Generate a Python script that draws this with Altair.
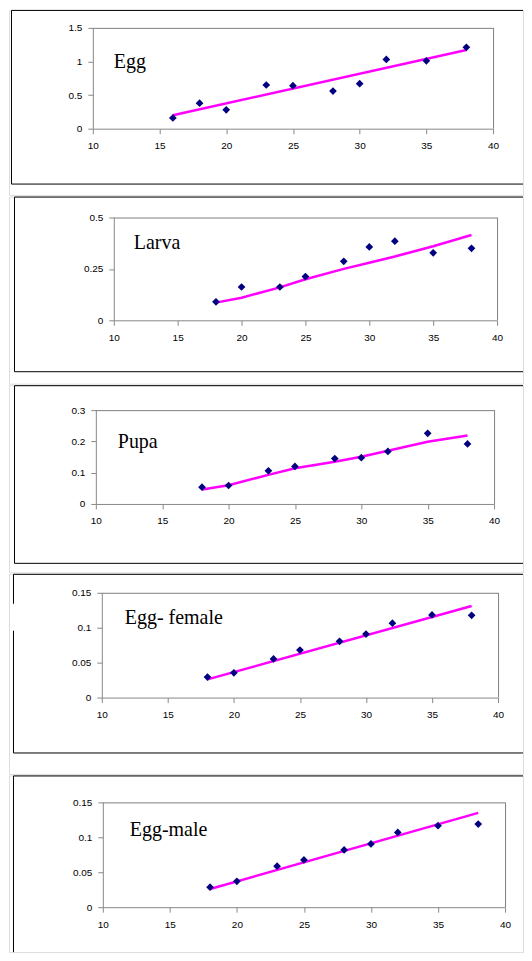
import altair as alt
import pandas as pd

# ---------------- data ----------------
x_ticks = [10, 15, 20, 25, 30, 35, 40]

egg_temp = [16, 18, 20, 23, 25, 28, 30, 32, 35, 38]
egg_val = [0.16, 0.38, 0.28, 0.65, 0.64, 0.56, 0.67, 1.03, 1.01, 1.21]
egg_fit_temp = [16, 38]
egg_fit_val = [0.20, 1.17]

temp = [18, 20, 23, 25, 28, 30, 32, 35, 38]

larva_val = [0.09, 0.162, 0.162, 0.213, 0.287, 0.357, 0.385, 0.328, 0.35]
larva_fit_val = [0.086, 0.11, 0.16, 0.20, 0.25, 0.28, 0.31, 0.36, 0.415]

pupa_val = [0.0535, 0.059, 0.106, 0.12, 0.145, 0.148, 0.168, 0.226, 0.192]
pupa_fit_val = [0.046, 0.06, 0.093, 0.114, 0.135, 0.151, 0.17, 0.199, 0.219]

female_val = [0.0293, 0.0355, 0.0554, 0.068, 0.0805, 0.0909, 0.1065, 0.1183, 0.1178]
female_fit_temp = [18, 38]
female_fit_val = [0.026, 0.131]

male_val = [0.0286, 0.037, 0.0586, 0.0676, 0.082, 0.0905, 0.107, 0.1167, 0.119]
male_fit_temp = [18, 38]
male_fit_val = [0.026, 0.135]

labels = ["Egg", "Larva", "Pupa", "Egg- female", "Egg-male"]
y_max = [1.5, 0.5, 0.3, 0.15, 0.15]
y_ticks = [[0, 0.5, 1, 1.5], [0, 0.25, 0.5], [0, 0.1, 0.2, 0.3],
           [0, 0.05, 0.1, 0.15], [0, 0.05, 0.1, 0.15]]

series = [
    (egg_temp, egg_val, egg_fit_temp, egg_fit_val),
    (temp, larva_val, temp, larva_fit_val),
    (temp, pupa_val, temp, pupa_fit_val),
    (temp, female_val, female_fit_temp, female_fit_val),
    (temp, male_val, male_fit_temp, male_fit_val),
]

# ---------------- layout (page pixels) ----------------
ORIGIN_X = 8           # page x of every cell's left edge (page margin)
CELL_W = 515           # cells run to page x 523 (svg must stay <= 516 wide)
CELL_TRIM = 1.5        # stacking adds a little to every cell; compensate
cell_top = [8, 195, 384, 573, 775]
cell_bottom = [195, 384, 573, 775, 952]
box_left = [10.5, 13.5, 13.5, 12.5, 12.5]
box_bottom = [182.5, 370.5, 562.5, 752.5, None]
# plot area: (left, top, width, height)
plots = [(92, 26, 401, 101), (113, 216, 384, 103), (95, 409, 399, 94),
         (101, 592, 397, 105), (102, 802, 403, 105)]
label_pos = [(113, 66), (133, 248), (117, 447), (124, 623), (129, 836)]
left_gap = [None, None, None, (603, 630), None]

one = pd.DataFrame({"a": [0]})


def rule(x, y, x2=None, y2=None, color="black"):
    enc = dict(x=alt.value(x), y=alt.value(y))
    if x2 is not None:
        enc["x2"] = alt.value(x2)
    if y2 is not None:
        enc["y2"] = alt.value(y2)
    return alt.Chart(one).mark_rule(color=color, strokeWidth=1).encode(**enc)


panels = []
for i in range(5):
    xs, ys, fx, fy = series[i]
    ct = cell_top[i]
    ch = cell_bottom[i] - ct - (CELL_TRIM if i < 4 else 0)
    pl, pt, w, h = plots[i]
    px0 = pl - ORIGIN_X          # plot left inside the cell
    py0 = pt - ct                # plot top inside the cell

    xsc = alt.Scale(domain=[10, 40], range=[px0, px0 + w], nice=False, zero=False)
    ysc = alt.Scale(domain=[0, y_max[i]], range=[py0 + h, py0], nice=False, zero=False)
    xax = alt.Axis(values=x_ticks, labelExpr="datum.value + ''", title=None, grid=False,
                   labelPadding=7, labelFlush=False, labelOverlap=False,
                   offset=(py0 + h) - ch)
    yax = alt.Axis(values=y_ticks[i], labelExpr="datum.value + ''", title=None, grid=False,
                   labelPadding=6, labelOverlap=False, offset=-px0)

    fit = pd.DataFrame({"t": fx, "v": fy})
    pts = pd.DataFrame({"t": xs, "v": ys})

    line = alt.Chart(fit).mark_line(color="#FF00FF", strokeWidth=2.5).encode(
        x=alt.X("t:Q", scale=xsc, axis=xax),
        y=alt.Y("v:Q", scale=ysc, axis=yax),
    )
    points = alt.Chart(pts).mark_point(
        shape="diamond", filled=True, color="#000080", size=60, opacity=1
    ).encode(
        x=alt.X("t:Q", scale=xsc, axis=xax),
        y=alt.Y("v:Q", scale=ysc, axis=yax),
    )

    lx, ly = label_pos[i]
    text = alt.Chart(pd.DataFrame({"label": [labels[i]]})).mark_text(
        font="Liberation Serif", fontSize=20, color="black", align="left",
        baseline="alphabetic"
    ).encode(text="label:N", x=alt.value(lx - ORIGIN_X), y=alt.value(ly - ct))

    layers = []
    # grey frame of the plot area (top and right)
    layers.append(rule(px0, py0 + 0.5, x2=px0 + w, color="#808080"))
    layers.append(rule(px0 + w + 0.5, py0, y2=py0 + h, color="#808080"))
    layers += [line, points, text]

    # outer box: top, bottom, left
    bl = box_left[i] - ORIGIN_X
    layers.append(rule(bl, 0.5, x2=CELL_W))
    if box_bottom[i] is not None:
        bb = box_bottom[i] - ct
        layers.append(rule(bl, bb, x2=CELL_W))
        left_end = bb
    else:
        left_end = ch
    if left_gap[i] is not None:
        g0, g1 = left_gap[i]
        layers.append(rule(bl, 0.5, y2=g0 - ct))
        layers.append(rule(bl, g1 - ct, y2=left_end))
    else:
        layers.append(rule(bl, 0.5, y2=left_end))

    panels.append(alt.layer(*layers).properties(width=CELL_W, height=ch))

chart = alt.vconcat(*panels, spacing=0).properties(
    padding={"left": 0, "top": 0, "right": 0, "bottom": 0}
).configure_view(
    strokeWidth=0, fill="white"
).configure_axis(
    grid=False, domainColor="black", domainWidth=1, tickColor="black", tickSize=4,
    labelColor="black", labelFont="DejaVu Sans", labelFontSize=10
).configure(background="white")

chart.save("out.html", embed_options={"renderer": "svg", "actions": False})
